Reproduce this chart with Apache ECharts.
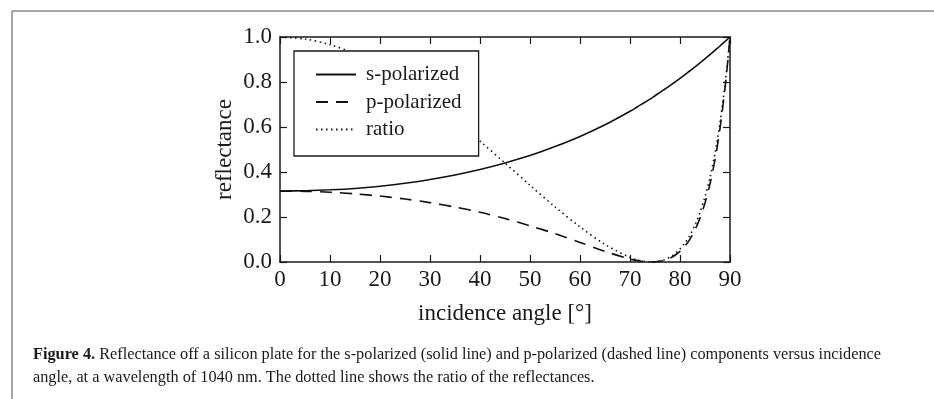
<!DOCTYPE html>
<html>
<head>
<meta charset="utf-8">
<script src="https://cdn.jsdelivr.net/npm/echarts@6/dist/echarts.min.js"></script>
<style>
html,body{margin:0;padding:0;background:#fff;}
#c{width:934px;height:399px;}
</style>
</head>
<body>
<div id="c"></div>
<script>
// incidence angle (degrees)
var angles = [0,5,10,15,20,25,30,35,40,45,50,55,60,65,70,71,72,73,74,75,76,77,78,79,80,81,82,83,84,85,86,87,88,89,89.5,90];
// s-polarized reflectance
var sPol = [0.315,0.317,0.321,0.327,0.337,0.350,0.367,0.387,0.411,0.440,0.473,0.513,0.558,0.610,0.670,0.683,0.697,0.710,0.724,0.739,0.754,0.769,0.784,0.800,0.816,0.833,0.850,0.867,0.885,0.903,0.922,0.941,0.960,0.980,0.990,1.0];
// p-polarized reflectance
var pPol = [0.315,0.314,0.310,0.303,0.293,0.280,0.264,0.244,0.221,0.193,0.161,0.126,0.087,0.047,0.013,0.0084,0.0044,0.0015,0.0001,0.0005,0.0031,0.0083,0.017,0.030,0.047,0.071,0.102,0.143,0.195,0.262,0.347,0.455,0.594,0.772,0.879,1.0];
// ratio of reflectances
var ratio = [1.0,0.991,0.966,0.925,0.869,0.800,0.720,0.632,0.537,0.440,0.341,0.245,0.156,0.078,0.020,0.012,0.006,0.002,0.0001,0.0006,0.004,0.011,0.022,0.037,0.058,0.085,0.120,0.164,0.220,0.290,0.376,0.484,0.619,0.788,0.888,1.0];
var seriesNames = ['s-polarized','p-polarized','ratio'];
var xTitle = 'incidence angle [\u00B0]';
var yTitle = 'reflectance';
var caption1 = 'Reflectance off a silicon plate for the s-polarized (solid line) and p-polarized (dashed line) components versus incidence';
var caption2 = 'angle, at a wavelength of 1040 nm. The dotted line shows the ratio of the reflectances.';

function pairs(ys){ return angles.map(function(a,i){ return [a, ys[i]]; }); }

var serif = 'Liberation Serif';
var chart = echarts.init(document.getElementById('c'), null, {renderer:'canvas'});
var axisCommon = {
  type:'value',
  axisLine:{show:true, onZero:false, lineStyle:{color:'#1a1a1a', width:1.5}},
  axisTick:{show:true, inside:true, length:7, lineStyle:{color:'#1a1a1a', width:1.2}},
  splitLine:{show:false}
};
var option = {
  animation:false,
  backgroundColor:'#fff',
  color:['#111','#111','#111'],
  grid:{left:280, right:204, top:37, bottom:137, containLabel:false},
  legend:{
    data:seriesNames,
    orient:'vertical',
    left:294, top:51,
    padding:[13,17,16,21],
    itemWidth:40, itemHeight:14, itemGap:6.5,
    backgroundColor:'#fff',
    borderColor:'#1a1a1a', borderWidth:1.3, borderRadius:0,
    itemStyle:{opacity:0},
    textStyle:{fontFamily:serif, fontSize:21, color:'#1a1a1a', lineHeight:20, padding:[0,0,0,5]}
  },
  xAxis:[
    Object.assign({}, axisCommon, {
      position:'bottom', min:0, max:90, interval:10,
      axisLabel:{show:true, margin:6, fontFamily:serif, fontSize:23, color:'#1a1a1a'},
      name:xTitle, nameLocation:'middle', nameGap:40,
      nameTextStyle:{fontFamily:serif, fontSize:23, color:'#1a1a1a'}
    }),
    Object.assign({}, axisCommon, {
      position:'top', min:0, max:90, interval:10,
      axisLabel:{show:false}
    })
  ],
  yAxis:[
    Object.assign({}, axisCommon, {
      position:'left', min:0, max:1, interval:0.2,
      axisLabel:{show:true, margin:8, fontFamily:serif, fontSize:23, color:'#1a1a1a',
        formatter:function(v){ return v.toFixed(1); }},
      name:yTitle, nameLocation:'middle', nameGap:44, nameRotate:90,
      nameTextStyle:{fontFamily:serif, fontSize:23, color:'#1a1a1a'}
    }),
    Object.assign({}, axisCommon, {
      position:'right', min:0, max:1, interval:0.2,
      axisLabel:{show:false}
    })
  ],
  series:[
    {name:seriesNames[0], type:'line', data:pairs(sPol), symbol:'none', smooth:0.3,
     itemStyle:{color:'#111'},
     lineStyle:{color:'#111', width:1.6, type:'solid'}, xAxisIndex:0, yAxisIndex:0, z:2},
    {name:seriesNames[1], type:'line', data:pairs(pPol), symbol:'none', smooth:0.3,
     itemStyle:{color:'#111'},
     lineStyle:{color:'#111', width:1.6, type:[12,8]}, xAxisIndex:0, yAxisIndex:0, z:2},
    {name:seriesNames[2], type:'line', data:pairs(ratio), symbol:'none', smooth:0.3,
     itemStyle:{color:'#111'},
     lineStyle:{color:'#111', width:1.6, type:[1.5,3.5]}, xAxisIndex:0, yAxisIndex:0, z:2}
  ],
  graphic:[
    {type:'line', shape:{x1:12, y1:11, x2:934, y2:11}, style:{stroke:'#8a8a8a', lineWidth:1.5}, silent:true},
    {type:'line', shape:{x1:12, y1:11, x2:12, y2:399}, style:{stroke:'#8a8a8a', lineWidth:1.5}, silent:true},
    {type:'text', left:33, top:347, style:{
      text:'{b|Figure 4.} ' + caption1,
      font:'16.3px "Liberation Serif"', fill:'#1a1a1a',
      rich:{b:{fontWeight:'bold', fontFamily:serif, fontSize:16.3, fill:'#1a1a1a'}}
    }},
    {type:'text', left:33, top:370, style:{
      text:caption2, font:'16.3px "Liberation Serif"', fill:'#1a1a1a'
    }}
  ]
};
chart.setOption(option);
</script>
</body>
</html>
